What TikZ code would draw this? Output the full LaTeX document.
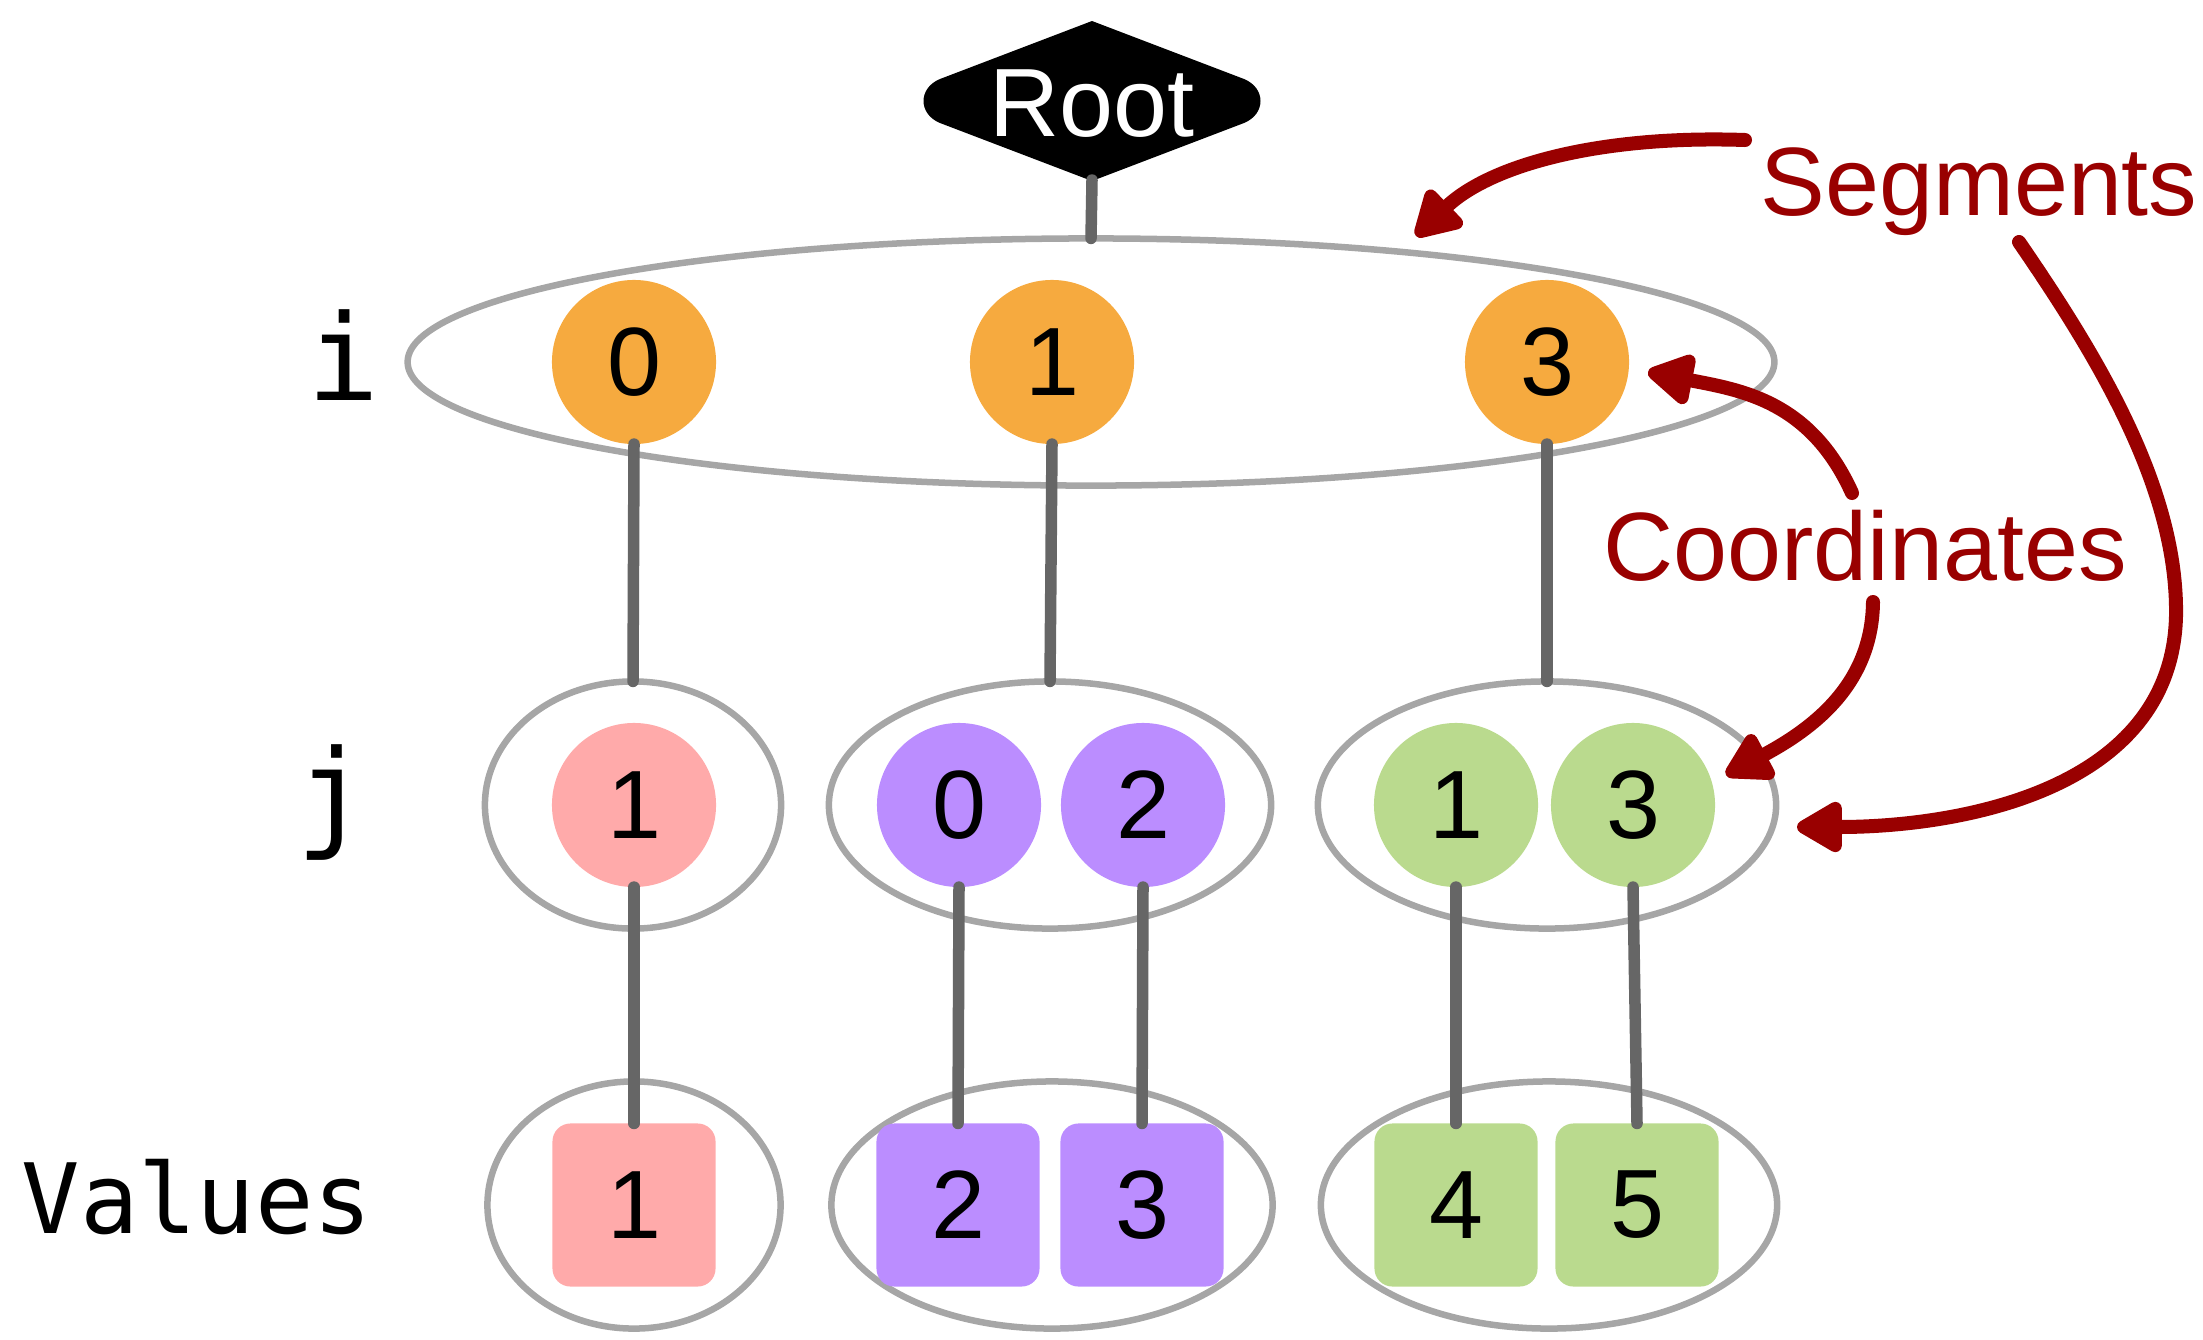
\documentclass[tikz,border=0pt]{standalone}
\usepackage{fontspec}
\setmainfont{Liberation Sans}
\newfontfamily\labelmono{DejaVu Sans Mono}
\usetikzlibrary{shapes.geometric,arrows.meta}
\definecolor{orng}{HTML}{F6AA3F}
\definecolor{pnk}{HTML}{FFAAAA}
\definecolor{prpl}{HTML}{BB8DFF}
\definecolor{grn}{HTML}{BADA8E}
\definecolor{linkgray}{HTML}{666666}
\definecolor{ringgray}{HTML}{A6A6A6}
\definecolor{darkred}{HTML}{990000}
\tikzset{
  grp/.style={ellipse, draw=ringgray, line width=0.065cm, inner sep=0pt, outer sep=0pt},
  num/.style={circle, minimum size=1.64cm, inner sep=0pt, outer sep=0pt, font=\fontsize{27.6pt}{33pt}\selectfont},
  val/.style={rectangle, rounded corners=0.18cm, minimum size=1.63cm, inner sep=0pt, outer sep=0pt, font=\fontsize{27.6pt}{33pt}\selectfont},
  link/.style={draw=linkgray, line width=0.115cm, line cap=round},
  note/.style={draw=darkred, line width=0.14cm, line cap=round, -{Triangle[round,length=0.52cm,width=0.56cm]}},
  notetext/.style={text=darkred, anchor=base, inner sep=0pt, font=\fontsize{27.6pt}{33pt}\selectfont},
  levlab/.style={anchor=base, inner sep=0pt, font=\labelmono\fontsize{34pt}{40pt}\selectfont},
}
\begin{document}
\begin{tikzpicture}[x=0.01cm, y=-0.01cm]
\useasboundingbox (0,0) rectangle (2203,1339);

% group ellipses
\node[grp, minimum width=13.66cm, minimum height=2.47cm] (top) at (1091,362) {};
\node[grp, minimum width=2.96cm, minimum height=2.47cm] (jg1) at (633,805) {};
\node[grp, minimum width=4.42cm, minimum height=2.47cm] (jg2) at (1050,805) {};
\node[grp, minimum width=4.58cm, minimum height=2.47cm] (jg3) at (1547,805) {};
\node[grp, minimum width=2.93cm, minimum height=2.47cm] (vg1) at (634,1205) {};
\node[grp, minimum width=4.41cm, minimum height=2.47cm] (vg2) at (1052,1205) {};
\node[grp, minimum width=4.56cm, minimum height=2.47cm] (vg3) at (1549,1205) {};

% root
\fill (1092,21) -- (940,79) .. controls (918,88) and (918,114) .. (940,123)
  -- (1092,181) -- (1244,123) .. controls (1266,114) and (1266,88) .. (1244,79) -- cycle;
\node[text=white, anchor=base, inner sep=0pt, font=\fontsize{27.6pt}{33pt}\selectfont] (root) at (1092,136) {Root};
\coordinate (rootbot) at (1092,180);

% i level
\node[num, fill=orng] (i0) at (634,362) {0};
\node[num, fill=orng] (i1) at (1052,362) {1};
\node[num, fill=orng] (i3) at (1547,362) {3};

% j level
\node[num, fill=pnk] (j1a) at (634,805) {1};
\node[num, fill=prpl] (j0b) at (959,805) {0};
\node[num, fill=prpl] (j2b) at (1143,805) {2};
\node[num, fill=grn] (j1c) at (1456,805) {1};
\node[num, fill=grn] (j3c) at (1633,805) {3};

% values
\node[val, fill=pnk] (v1) at (634,1205) {1};
\node[val, fill=prpl] (v2) at (958,1205) {2};
\node[val, fill=prpl] (v3) at (1142,1205) {3};
\node[val, fill=grn] (v4) at (1456,1205) {4};
\node[val, fill=grn] (v5) at (1637,1205) {5};

% level labels
\node[levlab] (ilab) at (343,400) {i};
\node[levlab] (jlab) at (332,835) {j};
\node[anchor=base, inner sep=0pt, font=\labelmono\fontsize{27.6pt}{33pt}\selectfont] (vlab) at (197,1233) {Values};

% links
\draw[link] (rootbot) -- (top.north);
\draw[link] (i0.south) -- (jg1.north);
\draw[link] (i1.south) -- (jg2.north);
\draw[link] (i3.south) -- (jg3.north);
\draw[link] (j1a.south) -- (v1.north);
\draw[link] (j0b.south) -- (v2.north);
\draw[link] (j2b.south) -- (v3.north);
\draw[link] (j1c.south) -- (v4.north);
\draw[link] (j3c.south) -- (v5.north);

% annotations
\node[notetext] (seg) at (1979,215) {Segments};
\node[notetext] (coord) at (1865,580) {Coordinates};
\coordinate (sA) at (1745,140);
\coordinate (tA) at (1416,236);
\coordinate (sB) at (2019,242);
\coordinate (mB) at (2176,616);
\coordinate (tB) at (1797,827);
\coordinate (sC) at (1852,493);
\coordinate (tC) at (1648,372);
\coordinate (sD) at (1873,602);
\coordinate (tD) at (1726,775);
\draw[note] (sA) .. controls (1600,135) and (1490,165) .. (tA);
\draw[note] (sB) .. controls (2100,360) and (2178,490) .. (mB) .. controls (2172,790) and (1960,827) .. (tB);
\draw[note] (sC) .. controls (1810,400) and (1740,390) .. (tC);
\draw[note] (sD) .. controls (1872,680) and (1820,725) .. (tD);
\end{tikzpicture}
\end{document}
